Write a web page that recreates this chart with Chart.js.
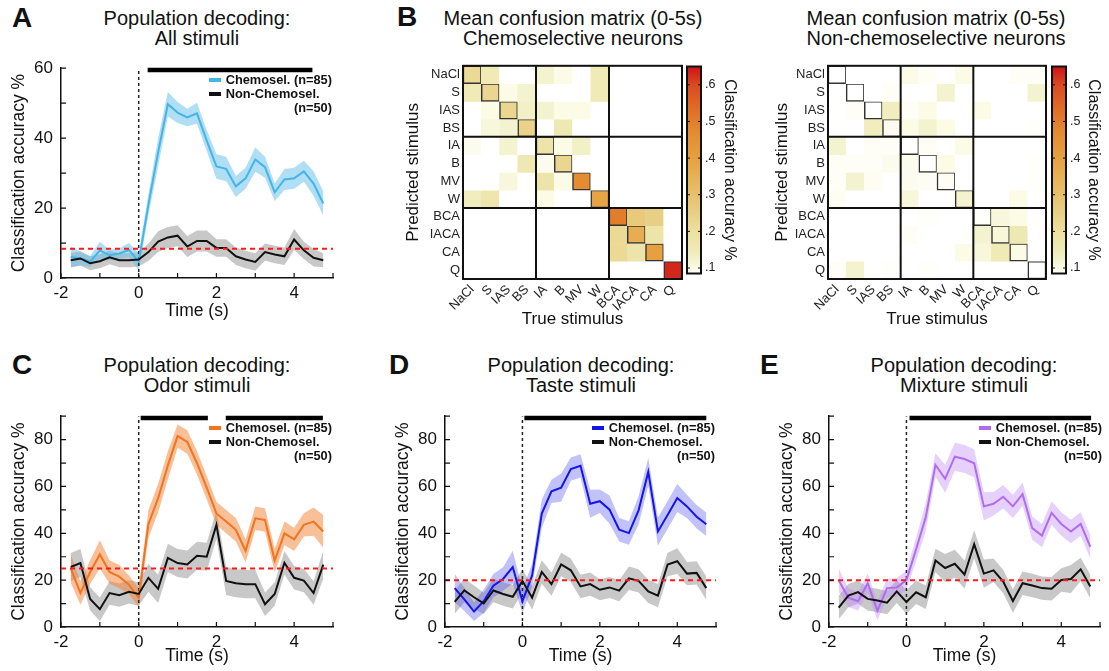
<!DOCTYPE html>
<html>
<head>
<meta charset="utf-8">
<title>Population decoding</title>
<script src="https://cdn.jsdelivr.net/npm/chart.js@4.4.0/dist/chart.umd.min.js"></script>
<style>
  body { margin: 0; width: 1109px; height: 671px; position: relative; overflow: hidden; background: #fff;
         font-family: "Liberation Sans", Arial, Helvetica, sans-serif; color: #111; }
  .box { position: absolute; }
  .ttl { position: absolute; width: 400px; text-align: center; font-size: 20px; line-height: 20px; white-space: nowrap; }
  .let { position: absolute; font-size: 28px; line-height: 28px; font-weight: bold; }
  .lg { position: absolute; font-size: 12.8px; line-height: 14px; font-weight: bold; white-space: nowrap; }
  .lg .sw { display: inline-block; width: 12px; height: 4px; margin-right: 5px; vertical-align: middle; position: relative; top: -1px; }
  .lg .r { text-align: right; }
</style>
</head>
<body>

<div class="box" style="left:0px;top:50px;width:345px;height:276px"><canvas id="chartA"></canvas></div>
<div class="box" style="left:401px;top:55px;width:289px;height:280px"><canvas id="matChemo"></canvas></div>
<div class="box" style="left:680px;top:55px;width:60px;height:230px"><canvas id="cbChemo"></canvas></div>
<div class="box" style="left:770px;top:55px;width:284px;height:280px"><canvas id="matNon"></canvas></div>
<div class="box" style="left:1045px;top:55px;width:64px;height:230px"><canvas id="cbNon"></canvas></div>
<div class="box" style="left:0px;top:398px;width:345px;height:273px"><canvas id="chartC"></canvas></div>
<div class="box" style="left:384px;top:398px;width:344px;height:273px"><canvas id="chartD"></canvas></div>
<div class="box" style="left:768px;top:398px;width:341px;height:273px"><canvas id="chartE"></canvas></div>

<div class="let" style="left:12px;top:4px">A</div>
<div class="let" style="left:397px;top:3px">B</div>
<div class="let" style="left:12px;top:351px">C</div>
<div class="let" style="left:389px;top:351px">D</div>
<div class="let" style="left:760px;top:351px">E</div>

<div class="ttl" style="left:-3px;top:8px">Population decoding:<br>All stimuli</div>
<div class="ttl" style="left:373px;top:8px">Mean confusion matrix (0-5s)<br>Chemoselective neurons</div>
<div class="ttl" style="left:736px;top:8px">Mean confusion matrix (0-5s)<br>Non-chemoselective neurons</div>
<div class="ttl" style="left:-3px;top:355px">Population decoding:<br>Odor stimuli</div>
<div class="ttl" style="left:381px;top:355px">Population decoding:<br>Taste stimuli</div>
<div class="ttl" style="left:764px;top:355px">Population decoding:<br>Mixture stimuli</div>

<div class="lg" style="right:777px;top:73px">
  <div><span class="sw" style="background:#45b5e6"></span>Chemosel. (n=85)</div>
  <div><span class="sw" style="background:#111"></span>Non-Chemosel.</div>
  <div class="r">(n=50)</div>
</div>
<div class="lg" style="right:777px;top:421px">
  <div><span class="sw" style="background:#f27420"></span>Chemosel. (n=85)</div>
  <div><span class="sw" style="background:#111"></span>Non-Chemosel.</div>
  <div class="r">(n=50)</div>
</div>
<div class="lg" style="right:394px;top:421px">
  <div><span class="sw" style="background:#1414ee"></span>Chemosel. (n=85)</div>
  <div><span class="sw" style="background:#111"></span>Non-Chemosel.</div>
  <div class="r">(n=50)</div>
</div>
<div class="lg" style="right:7px;top:421px">
  <div><span class="sw" style="background:#b06cf0"></span>Chemosel. (n=85)</div>
  <div><span class="sw" style="background:#111"></span>Non-Chemosel.</div>
  <div class="r">(n=50)</div>
</div>

<script>
// time bins (s), one every 250 ms
const time = [-1.75, -1.5, -1.25, -1, -0.75, -0.5, -0.25, 0, 0.25, 0.5, 0.75, 1, 1.25, 1.5, 1.75,
              2, 2.25, 2.5, 2.75, 3, 3.25, 3.5, 3.75, 4, 4.25, 4.5, 4.75];

// A - all stimuli
const allChemo = [6, 5.6, 4.7, 7.9, 6.5, 7, 8, 4.7, 21, 36, 49.7, 47.3, 45.9, 47.1, 39.3, 31.9, 31.2, 26.2, 28.5, 33.9, 31.7, 24.5, 28.2, 28.5, 30.5, 27, 21.3];
const allChemoErr = [3, 2, 1.5, 2.5, 1.5, 1.5, 2, 2.5, 3, 4, 3.5, 3, 2.5, 3, 3, 3.5, 3.5, 3, 3, 3.5, 3, 2.5, 3, 3, 3, 3.5, 3.5];
const allNon = [5.1, 5.6, 4.2, 4.8, 5.9, 5.1, 5.1, 5.3, 7.4, 10.4, 11.6, 12.1, 9, 10.6, 10.6, 8.6, 8.6, 6.2, 5.3, 4.6, 7.4, 6.7, 6.2, 11, 7.9, 5.8, 5.1];
const allNonErr = [2, 2, 2, 2, 2, 2, 2, 2, 2.5, 3, 3, 3, 3, 3, 3, 2.5, 2.5, 2.5, 2.5, 2.5, 2.5, 2.5, 2.5, 3, 2.5, 2.5, 2];
const allChance = 100 / 12;
const allSig = [[0.23, 4.47]];

// C - odor stimuli
const odorChemo = [25, 14.5, 23.5, 31, 23.5, 21.5, 18, 12.5, 44, 55, 69, 81.5, 79, 70, 59.5, 48.5, 45, 41.5, 32.5, 46.4, 45.7, 28.4, 40, 37.4, 43.6, 45, 40.8];
const odorChemoErr = [6, 5, 5, 6, 5, 5, 4, 4, 6, 6, 6, 5, 5, 5, 5, 5, 5, 5, 5, 5, 5, 5, 5, 5, 5, 6, 7];
const odorNon = [25.6, 27.3, 12, 7.6, 14.5, 13.6, 15, 14.1, 21, 16.3, 29.5, 27.3, 26.7, 30.4, 30, 43.6, 19.7, 18.7, 18.3, 18.3, 9.7, 14.1, 27.4, 21, 19.8, 14.5, 26.6];
const odorNonErr = [6, 6, 5, 5, 5, 5, 5, 5, 6, 6, 6, 6, 6, 6, 6, 6, 6, 6, 6, 6, 5, 5, 5, 5, 5, 5, 6];
const odorChance = 25;
const odorSig = [[0.05, 1.78], [2.24, 4.74]];

// D - taste stimuli
const tasteChemo = [16.6, 11.8, 6.6, 11, 17.6, 20.5, 25.6, 11, 22, 48.4, 57.9, 59.5, 67.4, 68.8, 52.6, 53.7, 50.1, 41.5, 40.1, 49.8, 66.2, 40.8, 47.8, 55.1, 51.5, 47.1, 43.9];
const tasteChemoErr = [6, 5, 4, 5, 5, 5, 7, 5, 5, 6, 5, 6, 5, 5, 6, 5, 6, 5, 5, 6, 6, 6, 6, 6, 5, 5, 5];
const tasteNon = [10.7, 15.6, 12.7, 10.1, 15.6, 14.1, 12.9, 19.7, 12.5, 23.5, 18.3, 26.7, 24.2, 17.3, 18.3, 15.9, 16.9, 15.5, 20.8, 19.7, 15.2, 13.4, 26.7, 28.1, 22.8, 23.1, 16.6];
const tasteNonErr = [5, 5, 5, 4.5, 5, 5, 5, 5, 5, 5, 5, 5, 5, 5, 5, 4.5, 4.5, 4.5, 5, 5, 5, 5, 5, 5.5, 5, 5, 5];
const tasteChance = 20;
const tasteSig = [[0.05, 4.75]];

// E - mixture stimuli
const mixChemo = [20, 12.5, 11, 18.7, 6.9, 16.6, 16.9, 20, 33.2, 47, 69.2, 63.3, 72.7, 71.7, 69.9, 51.5, 52.6, 55.6, 51.5, 56.7, 42.2, 39, 48.7, 44, 40.8, 44, 34.2];
const mixChemoErr = [5, 4, 4, 4, 4, 4, 4, 4, 5, 6, 5, 6, 6, 6, 6, 6, 5, 5, 5, 5, 5, 5, 5, 5, 5, 5, 5];
const mixNon = [8.3, 13.4, 14.9, 12, 11.3, 10.4, 15.2, 10.7, 14.8, 12.7, 28.4, 25.2, 27, 22.4, 35.3, 22.8, 24.2, 19.4, 11.1, 18.7, 17.7, 16.6, 16.3, 20.1, 20.5, 24.6, 17.3];
const mixNonErr = [5, 5, 5, 5, 5, 5, 5, 5, 5, 5, 5, 6, 6, 6, 6, 6, 5, 5, 5, 5, 5, 5, 5, 5, 6, 5, 5];
const mixChance = 20;
const mixSig = [[0.08, 4.77]];

// B - confusion matrices (rows = predicted, columns = true)
const stimuli = ['NaCl', 'S', 'IAS', 'BS', 'IA', 'B', 'MV', 'W', 'BCA', 'IACA', 'CA', 'Q'];
const blockEdges = [4, 8];
const confChemo = [
  [0.22, 0.15, 0, 0, 0.12, 0.1, 0, 0.15, 0, 0, 0, 0],
  [0.15, 0.23, 0.1, 0.12, 0, 0, 0, 0.15, 0, 0, 0, 0],
  [0, 0.1, 0.23, 0.13, 0.12, 0.1, 0.1, 0, 0, 0, 0, 0],
  [0, 0.11, 0.12, 0.24, 0, 0.16, 0, 0, 0, 0, 0, 0],
  [0.095, 0, 0.12, 0, 0.18, 0.1, 0.13, 0, 0, 0, 0, 0],
  [0, 0, 0, 0.16, 0.095, 0.23, 0, 0, 0, 0, 0, 0],
  [0, 0, 0.11, 0, 0.18, 0.1, 0.47, 0, 0, 0, 0, 0],
  [0.14, 0.17, 0, 0, 0.1, 0, 0, 0.39, 0, 0, 0, 0],
  [0, 0, 0, 0, 0, 0, 0, 0, 0.5, 0.27, 0.25, 0],
  [0, 0, 0, 0, 0, 0, 0, 0, 0.22, 0.36, 0.18, 0],
  [0, 0, 0, 0, 0, 0, 0, 0, 0.22, 0.18, 0.4, 0],
  [0, 0, 0, 0, 0, 0, 0, 0, 0, 0, 0, 0.63]
];
const confNon = [
  [0, 0, 0, 0, 0.1, 0.09, 0, 0.1, 0, 0, 0.09, 0.09],
  [0, 0, 0, 0.09, 0, 0, 0.12, 0, 0, 0, 0, 0.12],
  [0, 0.09, 0, 0.14, 0.09, 0.1, 0, 0, 0.1, 0, 0, 0],
  [0, 0, 0.14, 0.095, 0.1, 0.12, 0.1, 0, 0, 0, 0, 0.088],
  [0.12, 0, 0.09, 0.09, 0, 0.09, 0, 0.1, 0, 0, 0, 0],
  [0.09, 0.09, 0.09, 0.095, 0.095, 0, 0.1, 0, 0, 0, 0, 0.088],
  [0.09, 0.12, 0.092, 0, 0.095, 0.092, 0.092, 0, 0, 0, 0, 0.088],
  [0.092, 0, 0, 0, 0.11, 0, 0, 0.12, 0, 0, 0.1, 0],
  [0, 0, 0, 0, 0, 0.088, 0, 0, 0.088, 0.11, 0.1, 0],
  [0, 0, 0, 0, 0.09, 0, 0, 0, 0.12, 0.11, 0.16, 0],
  [0, 0, 0, 0, 0, 0, 0, 0.1, 0.11, 0.15, 0.1, 0],
  [0.09, 0.12, 0, 0.088, 0, 0.088, 0, 0, 0, 0, 0, 0]
];
const cbRange = [0.085, 0.65];
const cbTicks = [0.1, 0.2, 0.3, 0.4, 0.5, 0.6];

// white -> yellow -> orange -> red
const cmapStops = [
  [0.085, '#ffffff'], [0.1, '#fbfbe6'], [0.12, '#f4f3d0'], [0.15, '#efeab6'], [0.2, '#ece0a0'],
  [0.25, '#e9cf86'], [0.3, '#e8c06c'], [0.36, '#e6ae50'], [0.4, '#e6a040'], [0.47, '#e38c32'],
  [0.52, '#e07428'], [0.6, '#da4a22'], [0.65, '#d01018']
];

Chart.defaults.font.family = '"Liberation Sans", Arial, Helvetica, sans-serif';
Chart.defaults.color = '#111';

function hexToRgb(c) {
    return [1, 3, 5].map(i => parseInt(c.slice(i, i + 2), 16));
}

function cmap(v) {
    if (v <= cmapStops[0][0]) return cmapStops[0][1];
    for (let i = 1; i < cmapStops.length; i++) {
        if (v <= cmapStops[i][0]) {
            const [v0, c0] = cmapStops[i - 1];
            const [v1, c1] = cmapStops[i];
            const f = (v - v0) / (v1 - v0);
            const a = hexToRgb(c0), b = hexToRgb(c1);
            return 'rgb(' + a.map((x, k) => Math.round(x + (b[k] - x) * f)).join(',') + ')';
        }
    }
    return cmapStops[cmapStops.length - 1][1];
}

function pts(ys) {
    return time.map((t, i) => ({ x: t, y: ys[i] }));
}

function bandEdge(ys, err, sign) {
    return time.map((t, i) => ({ x: t, y: ys[i] + sign * err[i] }));
}

// MATLAB style ticks pointing into the plot
const innerTicks = {
    id: 'innerTicks',
    afterDatasetsDraw(chart) {
        const { ctx, chartArea: a } = chart;
        const xs = chart.scales.x, ys = chart.scales.y;
        ctx.save();
        ctx.strokeStyle = '#111';
        ctx.lineWidth = 1.2;
        ctx.beginPath();
        xs.ticks.forEach(t => {
            const p = xs.getPixelForValue(t.value);
            ctx.moveTo(p, a.bottom);
            ctx.lineTo(p, a.bottom - 5);
        });
        ys.ticks.forEach(t => {
            const p = ys.getPixelForValue(t.value);
            ctx.moveTo(a.left, p);
            ctx.lineTo(a.left + 5, p);
        });
        ctx.stroke();
        ctx.restore();
    }
};

function decodingChart(id, d) {
    const line = { pointRadius: 0, tension: 0, fill: false };
    const datasets = [
        { ...line, data: bandEdge(d.non, d.nonErr, -1), borderWidth: 0, order: 9 },
        { ...line, data: bandEdge(d.non, d.nonErr, 1), borderWidth: 0, fill: '-1', backgroundColor: 'rgba(125,125,125,0.42)', order: 9 },
        { ...line, data: bandEdge(d.chemo, d.chemoErr, -1), borderWidth: 0, order: 8 },
        { ...line, data: bandEdge(d.chemo, d.chemoErr, 1), borderWidth: 0, fill: '-1', backgroundColor: d.band, order: 8 },
        { ...line, data: pts(d.chemo), borderColor: d.color, borderWidth: 2, order: 3 },
        { ...line, data: pts(d.non), borderColor: '#111', borderWidth: 2, order: 2 },
        { ...line, data: [{ x: -2, y: d.chance }, { x: 5, y: d.chance }], borderColor: '#ff1a1a', borderDash: [5, 4], borderWidth: 2, order: 1 },
        { ...line, data: [{ x: 0, y: 0 }, { x: 0, y: d.yMax }], borderColor: '#222', borderDash: [3, 3], borderWidth: 1.5, order: 4 }
    ];
    d.sig.forEach(s => {
        datasets.push({ ...line, data: [{ x: s[0], y: d.yMax * 0.992 }, { x: s[1], y: d.yMax * 0.992 }],
                        borderColor: '#000', borderWidth: 4.5, borderCapStyle: 'butt', clip: false, order: 0 });
    });

    new Chart(document.getElementById(id), {
        type: 'line',
        data: { datasets },
        options: {
            animation: false,
            responsive: true,
            maintainAspectRatio: false,
            layout: { padding: { top: 12, right: d.padRight, left: 0, bottom: 0 } },
            plugins: { legend: { display: false }, tooltip: { enabled: false } },
            scales: {
                x: {
                    type: 'linear', min: -2, max: 5,
                    afterFit: s => { s.height = d.xHeight; },
                    grid: { display: false, drawTicks: false },
                    border: { color: '#111', width: 1.5 },
                    ticks: { stepSize: 1, autoSkip: false, maxRotation: 0, padding: 5, font: { size: 17 }, color: '#111',
                             callback: v => (v % 2 === 0 ? v : '') },
                    title: { display: true, text: 'Time (s)', font: { size: 17.5 }, color: '#111', padding: { top: 0, bottom: 4 } }
                },
                y: {
                    min: 0, max: d.yMax,
                    afterFit: s => { s.width = 61; },
                    grid: { display: false, drawTicks: false },
                    border: { color: '#111', width: 1.5 },
                    ticks: { stepSize: 10, padding: 8, font: { size: 17 }, color: '#111',
                             callback: v => (v % 20 === 0 ? v : '') },
                    title: { display: true, text: 'Classification accuracy %', font: { size: 17.5 }, color: '#111', padding: { top: 9, bottom: 0 } }
                }
            }
        },
        plugins: [innerTicks]
    });
}

// thick block separators + frame on the confusion matrices
const blockLines = {
    id: 'blockLines',
    afterDatasetsDraw(chart) {
        const { ctx, chartArea: a } = chart;
        const xs = chart.scales.x, ys = chart.scales.y;
        ctx.save();
        ctx.strokeStyle = '#111';
        ctx.lineWidth = 2;
        ctx.beginPath();
        blockEdges.forEach(b => {
            const px = (xs.getPixelForValue(b - 1) + xs.getPixelForValue(b)) / 2;
            const py = ys.getPixelForValue(b - 0.5);
            ctx.moveTo(px, a.top);
            ctx.lineTo(px, a.bottom);
            ctx.moveTo(a.left, py);
            ctx.lineTo(a.right, py);
        });
        ctx.stroke();
        ctx.strokeRect(a.left, a.top, a.right - a.left, a.bottom - a.top);
        ctx.restore();
    }
};

function matrixChart(id, M, yWidth) {
    const datasets = M.map((row, r) => ({
        data: stimuli.map(() => [r - 0.5, r + 0.5]),
        backgroundColor: row.map(cmap),
        borderColor: '#333',
        borderWidth: row.map((v, c) => (c === r ? 1.5 : 0)),
        borderSkipped: false,
        grouped: false,
        barPercentage: 1,
        categoryPercentage: 1
    }));

    new Chart(document.getElementById(id), {
        type: 'bar',
        data: { labels: stimuli, datasets },
        options: {
            animation: false,
            responsive: true,
            maintainAspectRatio: false,
            layout: { padding: { top: 6, right: 8, left: 0, bottom: 0 } },
            plugins: { legend: { display: false }, tooltip: { enabled: false } },
            scales: {
                x: {
                    afterFit: s => { s.height = 56; },
                    grid: { display: false, drawTicks: false },
                    border: { display: false },
                    ticks: { autoSkip: false, minRotation: 45, maxRotation: 45, padding: 3, font: { size: 13 }, color: '#222' },
                    title: { display: true, text: 'True stimulus', font: { size: 17 }, color: '#111', padding: { top: 0, bottom: 5 } }
                },
                y: {
                    min: -0.5, max: 11.5, reverse: true,
                    afterFit: s => { s.width = yWidth; },
                    afterBuildTicks: s => { s.ticks = stimuli.map((_, i) => ({ value: i })); },
                    grid: { display: false, drawTicks: false },
                    border: { display: false },
                    ticks: { padding: 3, font: { size: 13 }, color: '#222', callback: v => stimuli[v] },
                    title: { display: true, text: 'Predicted stimulus', font: { size: 17 }, color: '#111', padding: { top: 2, bottom: 0 } }
                }
            }
        },
        plugins: [blockLines]
    });
}

const cbFrame = {
    id: 'cbFrame',
    afterDatasetsDraw(chart) {
        const { ctx, chartArea: a } = chart;
        const ys = chart.scales.y;
        ctx.save();
        ctx.strokeStyle = '#111';
        ctx.lineWidth = 1;
        ctx.beginPath();
        cbTicks.forEach(v => {
            const p = ys.getPixelForValue(v);
            ctx.moveTo(a.left, p);
            ctx.lineTo(a.left + 3, p);
            ctx.moveTo(a.right, p);
            ctx.lineTo(a.right - 3, p);
        });
        ctx.stroke();
        ctx.lineWidth = 2;
        ctx.strokeRect(a.left, a.top, a.right - a.left, a.bottom - a.top);
        ctx.restore();
    }
};

function colorbar(id, yWidth, titlePad) {
    new Chart(document.getElementById(id), {
        type: 'bar',
        data: {
            labels: [''],
            datasets: [{
                data: [cbRange],
                backgroundColor: c => {
                    const chart = c.chart;
                    if (!chart.chartArea) return '#fff';
                    const ys = chart.scales.y;
                    const g = chart.ctx.createLinearGradient(0, ys.getPixelForValue(cbRange[0]), 0, ys.getPixelForValue(cbRange[1]));
                    cmapStops.forEach(([v, col]) => g.addColorStop((v - cbRange[0]) / (cbRange[1] - cbRange[0]), col));
                    return g;
                },
                borderWidth: 0,
                barPercentage: 1,
                categoryPercentage: 1
            }]
        },
        options: {
            animation: false,
            responsive: true,
            maintainAspectRatio: false,
            layout: { padding: { top: 6, bottom: 6, left: 7, right: 0 } },
            plugins: { legend: { display: false }, tooltip: { enabled: false } },
            scales: {
                x: { display: false },
                y: {
                    position: 'right', min: cbRange[0], max: cbRange[1],
                    afterFit: s => { s.width = yWidth; },
                    afterBuildTicks: s => { s.ticks = cbTicks.map(v => ({ value: v })); },
                    grid: { display: false, drawTicks: false },
                    border: { display: false },
                    ticks: { padding: 4, font: { size: 12.5 }, color: '#222', callback: v => '.' + Math.round(v * 10) },
                    title: { display: true, text: 'Classification accuracy %', font: { size: 16 }, color: '#111', padding: { top: titlePad, bottom: 0 } }
                }
            }
        },
        plugins: [cbFrame]
    });
}

decodingChart('chartA', { chemo: allChemo, chemoErr: allChemoErr, non: allNon, nonErr: allNonErr,
    chance: allChance, sig: allSig, yMax: 60, color: '#45b5e6', band: 'rgba(95,190,235,0.5)', xHeight: 48, padRight: 12 });
decodingChart('chartC', { chemo: odorChemo, chemoErr: odorChemoErr, non: odorNon, nonErr: odorNonErr,
    chance: odorChance, sig: odorSig, yMax: 90, color: '#f27420', band: 'rgba(244,130,50,0.5)', xHeight: 44, padRight: 12 });
decodingChart('chartD', { chemo: tasteChemo, chemoErr: tasteChemoErr, non: tasteNon, nonErr: tasteNonErr,
    chance: tasteChance, sig: tasteSig, yMax: 90, color: '#1414ee', band: 'rgba(80,80,240,0.35)', xHeight: 44, padRight: 12 });
decodingChart('chartE', { chemo: mixChemo, chemoErr: mixChemoErr, non: mixNon, nonErr: mixNonErr,
    chance: mixChance, sig: mixSig, yMax: 90, color: '#b06cf0', band: 'rgba(190,140,245,0.4)', xHeight: 44, padRight: 9 });

matrixChart('matChemo', confChemo, 62);
matrixChart('matNon', confNon, 58);
colorbar('cbChemo', 39, 0.5);
colorbar('cbNon', 43, 5.5);
</script>
</body>
</html>
